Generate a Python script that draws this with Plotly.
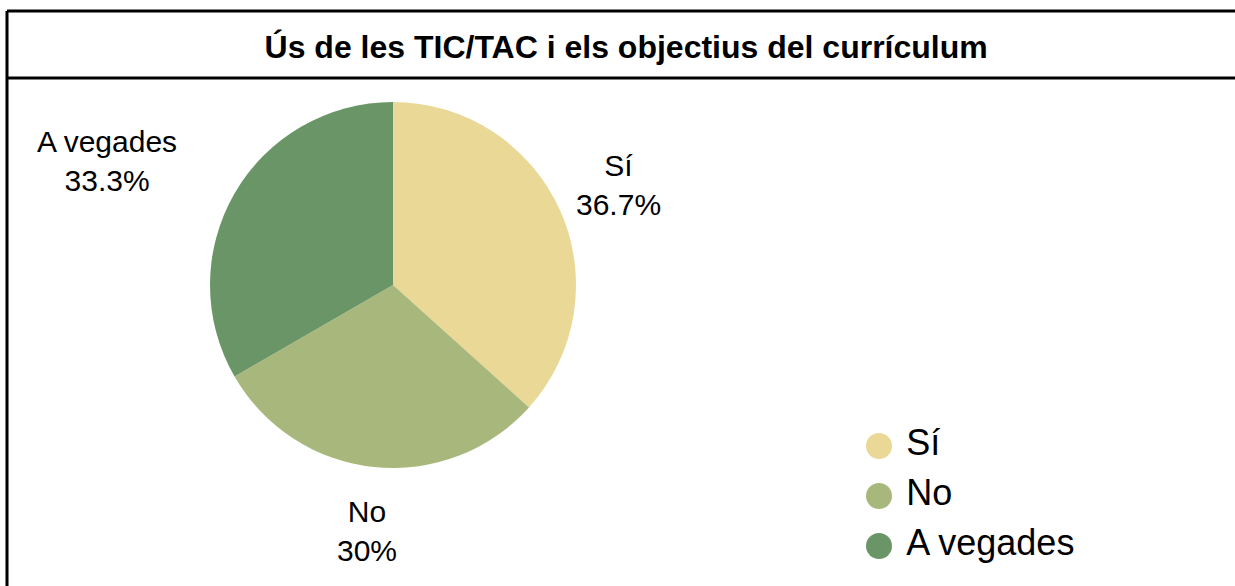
import numpy as np
import plotly.graph_objects as go

# survey answers (counts out of 30)
labels = ["Sí", "No", "A vegades"]
counts = [11, 9, 10]
colors = ["#E9D896", "#A8B87C", "#6A9566"]
title_text = "Ús de les TIC/TAC i els objectius del currículum"

W, H = 1235, 586
cx, cy, r = 393, 285, 183   # pie centre / radius in px
r_lab = 247                 # distance of the slice labels from the centre
lab_anchor = ["center", "center", "right"]

fig = go.Figure()

fig.add_trace(go.Pie(
    labels=labels, values=counts,
    marker=dict(colors=colors, line=dict(width=0)),
    sort=False, direction="clockwise", rotation=0,
    textinfo="none",
    showlegend=False,
    hoverinfo="label+percent",
    domain=dict(x=[(cx - r) / W, (cx + r) / W],
                y=[1 - (cy + r) / H, 1 - (cy - r) / H]),
))

# slice labels on the mid-angle of each slice
vals = np.array(counts, dtype=float)
frac = vals / vals.sum()
mid = (np.cumsum(frac) - frac / 2) * 2 * np.pi
annotations = []
for lab, f, a, anc in zip(labels, frac, mid, lab_anchor):
    px = cx + r_lab * np.sin(a)
    py = cy - r_lab * np.cos(a)
    annotations.append(dict(
        x=px / W, y=1 - py / H, xref="paper", yref="paper",
        text="%s<br>%s%%" % (lab, format(f * 100, ".3g")),
        showarrow=False, xanchor=anc, yanchor="middle", align="center",
        font=dict(size=30, color="black"),
    ))

# legend drawn as a small marker column with round swatches
fig.add_trace(go.Scatter(
    x=[0] * len(labels), y=labels,
    mode="markers+text",
    marker=dict(size=26, color=colors, line=dict(width=0)),
    text=["\u00a0" + lab for lab in labels],
    textposition="middle right",
    textfont=dict(size=36, color="black"),
    cliponaxis=False, showlegend=False, hoverinfo="skip",
))

fig.update_layout(
    width=W, height=H,
    margin=dict(l=0, r=0, t=0, b=0),
    paper_bgcolor="white", plot_bgcolor="rgba(0,0,0,0)",
    font=dict(family="Liberation Sans, Arial, sans-serif", color="black"),
    showlegend=False,
    xaxis=dict(visible=False, domain=[879 / W, 1200 / W], range=[0, 1], fixedrange=True),
    yaxis=dict(visible=False, domain=[1 - 571 / H, 1 - 421 / H], type="category",
               range=[2.5, -0.5], fixedrange=True),
    title=dict(text="<b>%s</b>" % title_text, x=0.507, xanchor="center",
               y=1 - 47 / H, yanchor="middle", font=dict(size=32)),
    annotations=annotations,
    shapes=[
        dict(type="line", xref="paper", yref="paper", x0=7 / W, x1=1, y0=1 - 11 / H, y1=1 - 11 / H,
             line=dict(color="black", width=3)),
        dict(type="line", xref="paper", yref="paper", x0=7 / W, x1=1, y0=1 - 78 / H, y1=1 - 78 / H,
             line=dict(color="black", width=3)),
        dict(type="line", xref="paper", yref="paper", x0=7 / W, x1=7 / W, y0=0, y1=1 - 11 / H,
             line=dict(color="black", width=3)),
    ],
)

fig.write_html("out.html", config=dict(displayModeBar=False),
               post_script="document.body.style.margin='0px';")
